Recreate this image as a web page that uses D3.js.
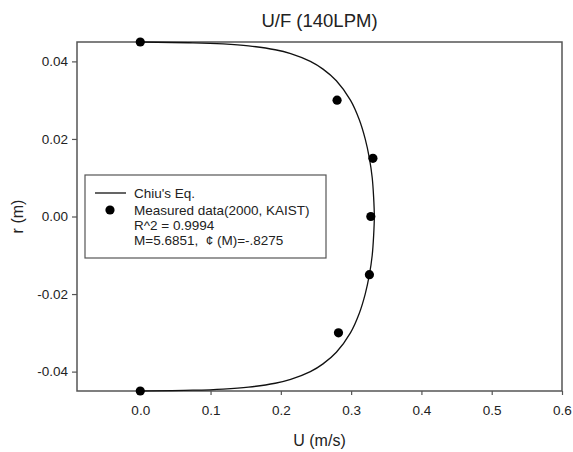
<!DOCTYPE html>
<html>
<head>
<meta charset="utf-8">
<script src="https://cdn.jsdelivr.net/npm/d3@7"></script>
<style>
  body { margin: 0; background: #fff; }
  text { font-family: "Liberation Sans", Arial, sans-serif; fill: #222; }
</style>
</head>
<body>
<div id="myDiagram"></div>
<script>
// measured points (U m/s, r m)
var measU = [0, 0.28, 0.331, 0.328, 0.326, 0.282, 0];
var measR = [0.045, 0.030, 0.015, 0.0, -0.015, -0.030, -0.045];

// Chiu's Eq. curve (r m, U m/s), upper half; mirrored below
var curveR = [0.045, 0.0448, 0.0445, 0.044, 0.043, 0.042, 0.040, 0.038, 0.035, 0.030, 0.025, 0.020, 0.015, 0.010, 0.005, 0.0];
var curveU = [0, 0.075, 0.118, 0.154, 0.192, 0.214, 0.242, 0.260, 0.279, 0.299, 0.3115, 0.320, 0.326, 0.330, 0.332, 0.333];

var xTicks = [0, 0.1, 0.2, 0.3, 0.4, 0.5, 0.6];
var yTicks = [0.04, 0.02, 0, -0.02, -0.04];

var legendLines = ["Chiu's Eq.", "Measured data(2000, KAIST)", "R^2 = 0.9994", "M=5.6851,\u00a0 \u00a2 (M)=-.8275"];

var W = 573, H = 452;
var margin = { top: 42, right: 11, bottom: 61, left: 77 },
    width = W - margin.left - margin.right,
    height = H - margin.top - margin.bottom;

// plain hyphen for negatives, like the original
var fmt1 = function(d){ return d3.format(".1f")(d).replace("\u2212", "-"); };
var fmt2 = function(d){ return d3.format(".2f")(d).replace("\u2212", "-"); };

var svg = d3.select('#myDiagram')
            .append('svg')
            .attr('width', W)
            .attr('height', H)
            .style('background', '#fff');

var g = svg.append("g")
           .attr("transform", "translate(" + margin.left + "," + margin.top + ")");

var x = d3.scaleLinear().domain([-0.09, 0.6]).range([0, width]);
var y = d3.scaleLinear().domain([-0.045, 0.045]).range([height, 0]);

// x axis
var xa = g.append("g")
    .attr("transform", "translate(0," + height + ")")
    .call(d3.axisBottom(x).tickValues(xTicks).tickSize(4).tickPadding(10).tickFormat(fmt1));
xa.select(".domain").remove();
xa.selectAll("line").attr("stroke", "#555").attr("stroke-width", 1.2);
xa.selectAll("text").style("font-size", "13.5px").style("fill", "#222");

// y axis
var ya = g.append("g")
    .call(d3.axisLeft(y).tickValues(yTicks).tickSize(5).tickPadding(4).tickFormat(fmt2));
ya.select(".domain").remove();
ya.selectAll("line").attr("stroke", "#555").attr("stroke-width", 1.2);
ya.selectAll("text").style("font-size", "13.5px").style("fill", "#222");

// frame
g.append("rect")
    .attr("x", 0).attr("y", 0)
    .attr("width", width).attr("height", height)
    .attr("fill", "none")
    .attr("stroke", "#555")
    .attr("stroke-width", 1.5);

// curve: upper half then mirrored lower half
var pts = [];
for (var i = 0; i < curveR.length; i++) pts.push([curveU[i], curveR[i]]);
for (var j = curveR.length - 2; j >= 0; j--) pts.push([curveU[j], -curveR[j]]);

var line = d3.line()
    .x(function(d){ return x(d[0]); })
    .y(function(d){ return y(d[1]); })
    .curve(d3.curveCatmullRom);

g.append("path")
    .datum(pts)
    .attr("d", line)
    .attr("fill", "none")
    .attr("stroke", "#111")
    .attr("stroke-width", 1.3);

// measured points
g.selectAll("circle.meas")
    .data(measU)
    .enter()
    .append("circle")
    .attr("class", "meas")
    .attr("cx", function(d){ return x(d); })
    .attr("cy", function(d, i){ return y(measR[i]); })
    .attr("r", 4.6)
    .attr("fill", "#000");

// legend
var lg = svg.append("g").attr("transform", "translate(85,175)");
lg.append("rect")
    .attr("width", 241).attr("height", 83)
    .attr("fill", "#fff")
    .attr("stroke", "#555")
    .attr("stroke-width", 1.2);
lg.append("line")
    .attr("x1", 10).attr("x2", 41)
    .attr("y1", 18).attr("y2", 18)
    .attr("stroke", "#111").attr("stroke-width", 1.3);
lg.append("circle")
    .attr("cx", 25).attr("cy", 35).attr("r", 4.6).attr("fill", "#000");
lg.selectAll("text.leg")
    .data(legendLines)
    .enter()
    .append("text")
    .attr("class", "leg")
    .attr("x", 49)
    .attr("y", function(d, i){ return 18 + [0, 17, 32.5, 47][i]; })
    .attr("dy", "0.35em")
    .style("font-size", "13.5px")
    .text(function(d){ return d; });

// title
svg.append("text")
    .attr("x", margin.left + width / 2)
    .attr("y", 27)
    .attr("text-anchor", "middle")
    .style("font-size", "18.5px")
    .text("U/F (140LPM)");

// axis titles
svg.append("text")
    .attr("x", margin.left + width / 2)
    .attr("y", 446)
    .attr("text-anchor", "middle")
    .style("font-size", "16px")
    .text("U (m/s)");

svg.append("text")
    .attr("transform", "translate(23," + (margin.top + height / 2) + ") rotate(-90)")
    .attr("text-anchor", "middle")
    .style("font-size", "16px")
    .text("r (m)");
</script>
</body>
</html>
